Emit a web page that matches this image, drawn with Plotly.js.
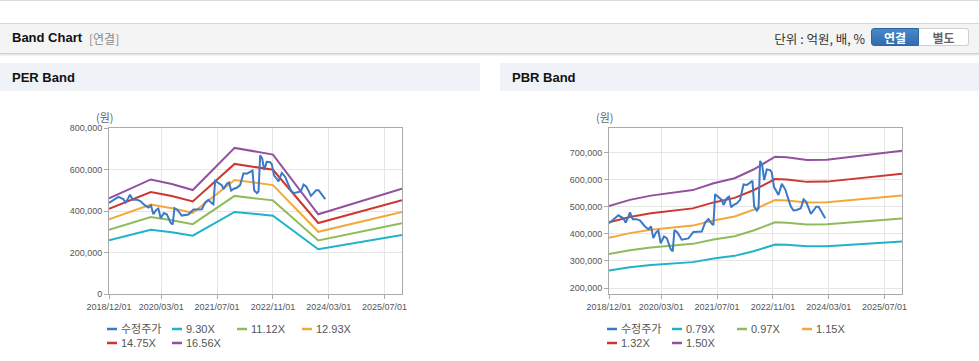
<!DOCTYPE html>
<html>
<head>
<meta charset="utf-8">
<script src="https://cdn.plot.ly/plotly-3.0.1.min.js"></script>
<style>
  html,body{margin:0;padding:0;}
  body{width:979px;height:361px;overflow:hidden;background:#fff;position:relative;
       font-family:"Liberation Sans","Noto Sans CJK KR",Arial,sans-serif;}
  .topline{position:absolute;left:0;top:0;width:979px;height:1px;background:#dcdcdc;}
  .hdr{position:absolute;left:0;top:23px;width:979px;height:29px;background:#f4f4f4;
       border-top:1px solid #d8d8d8;border-bottom:1px solid #cfcfcf;box-shadow:0 1px 2px rgba(0,0,0,0.15);}
  .hdr .title{position:absolute;left:12px;top:6px;font-size:13px;font-weight:bold;color:#111;}
  .hdr .sub{position:absolute;left:89px;top:7px;font-size:12px;color:#8a8a8a;font-family:"Noto Sans CJK KR","Liberation Sans",sans-serif;line-height:16px;}
  .hdr .unit{position:absolute;right:114px;top:6px;font-size:12.5px;color:#333;font-family:"Noto Sans CJK KR","Liberation Sans",sans-serif;line-height:17px;}
  .btn{position:absolute;top:4px;height:18px;width:48px;font-size:12px;font-weight:bold;text-align:center;line-height:18px;
       font-family:"Noto Sans CJK KR",sans-serif;box-sizing:border-box;}
  .btn.on{left:871px;background:linear-gradient(#4a88c8,#2f6cb0);color:#fff;border:1px solid #2c65a5;border-radius:3px 0 0 3px;}
  .btn.off{left:919px;width:50px;background:#fff;color:#666;border:1px solid #cfcfcf;border-left:none;border-radius:0 3px 3px 0;}
  .sec{position:absolute;top:63px;height:28px;background:#eff2f7;}
  .sec span{position:absolute;left:12px;top:7px;font-size:13px;font-weight:bold;color:#111;}
  .chart{position:absolute;top:91px;height:270px;}
</style>
</head>
<body>
<div class="topline"></div>
<div class="hdr">
  <div class="title">Band Chart</div>
  <div class="sub">[연결]</div>
  <div class="unit">단위 : 억원, 배, %</div>
  <div class="btn on">연결</div>
  <div class="btn off">별도</div>
</div>
<div class="sec" style="left:0;width:480px;"><span>PER Band</span></div>
<div class="sec" style="left:500px;width:479px;"><span>PBR Band</span></div>
<div id="per" class="chart" style="left:0;width:480px;"></div>
<div id="pbr" class="chart" style="left:500px;width:479px;"></div>

<script>
// ---------------- data ----------------
const tickDates  = ['2018-12-01','2020-03-01','2021-07-01','2022-11-01','2024-03-01','2025-07-01'];
const tickLabels = ['2018/12/01','2020/03/01','2021/07/01','2022/11/01','2024/03/01','2025/07/01'];

const priceName = '수정주가';
const priceDates = ['2018-12-01','2019-01-22','2019-02-21','2019-04-05','2019-04-26','2019-05-19','2019-06-02','2019-06-26',
  '2019-07-31','2019-08-29','2019-10-11','2019-11-10','2019-12-03','2019-12-23','2020-01-16','2020-02-05','2020-02-25',
  '2020-03-25','2020-04-18','2020-05-23','2020-06-09','2020-06-24','2020-07-20','2020-08-27','2020-10-24','2020-12-07',
  '2021-02-18','2021-03-19','2021-04-17','2021-05-16','2021-05-30','2021-06-14','2021-07-13','2021-08-11','2021-08-26',
  '2021-09-24','2021-10-14','2021-11-01','2021-11-21','2021-12-20','2022-01-18','2022-02-17','2022-03-18','2022-04-16',
  '2022-05-06','2022-05-21','2022-06-13','2022-06-28','2022-07-12','2022-07-30','2022-08-16','2022-09-08','2022-10-08',
  '2022-10-22','2022-11-11','2022-11-29','2022-12-19','2023-01-17','2023-02-16','2023-03-08','2023-04-06','2023-04-29',
  '2023-05-28','2023-07-02','2023-07-26','2023-08-18','2023-09-07','2023-09-28','2023-10-21','2023-11-13','2023-12-04',
  '2024-01-02','2024-01-31'];
const priceValues = [439000,457000,468000,457000,441000,463000,479000,454000,
  454000,449000,427000,417000,427000,384000,405000,412000,365000,
  390000,384000,343000,335000,414000,405000,378000,383000,407000,
  408000,441000,454000,437000,432000,546000,537000,525000,506000,
  531000,537000,498000,506000,512000,525000,582000,580000,588000,
  595000,500000,486000,494000,669000,653000,598000,637000,635000,
  625000,571000,559000,543000,584000,564000,537000,500000,486000,
  488000,494000,527000,518000,498000,473000,486000,500000,500000,
  476000,457000];

// PER bands
const perDates = ['2018-12-01','2019-12-01','2020-06-01','2020-12-01','2021-12-01','2022-11-01','2023-12-01','2025-12-01'];
const perNames = ['9.30X','11.12X','12.93X','14.75X','16.56X'];
const per930  = [258900,310000,297600,281300,395300,377400,215700,284700];
const per1112 = [309600,370600,355800,336400,472700,451200,257900,340500];
const per1293 = [360000,430900,413800,391100,549700,524700,299800,395900];
const per1475 = [410600,491600,472000,446200,627000,598600,342100,451600];
const per1656 = [461000,552000,530000,501000,704000,672000,384000,507000];

// PBR bands
const pbrDates = ['2018-12-01','2019-06-01','2019-12-01','2020-12-01','2021-06-01','2021-12-01','2022-05-15','2022-11-20',
  '2023-03-01','2023-08-24','2024-02-15','2025-12-01'];
const pbrNames = ['0.79X','0.97X','1.15X','1.32X','1.50X'];
const pbr079 = [264700,276500,284800,295500,308700,318600,335500,360200,359200,353900,354500,371900];
const pbr097 = [325000,339500,349700,362800,379000,391200,412000,442300,441100,434600,435200,456600];
const pbr115 = [385400,402500,414600,430100,449300,463800,488400,524400,522900,515200,516000,541300];
const pbr132 = [442300,462000,475900,493700,515700,532400,560600,601900,600200,591400,592300,621300];
const pbr150 = [502700,525000,540700,561000,586000,605000,637000,684000,682000,672000,673000,706000];

const perYTicks = [0,200000,400000,600000,800000];
const pbrYTicks = [200000,300000,400000,500000,600000,700000];

// ---------------- style ----------------
const priceColor = '#3a78c8';
const bandColors = ['#1fb3c9','#8ebc5a','#f2a93b','#cf3630','#9350a0'];
const FONT = '"Liberation Sans","Noto Sans CJK KR",Arial,sans-serif';
const M = {l:109, r:0, t:37, b:67};

function build(div, width, bandDates, bandSeries, bandNames, yRange, yTicks){
  M.r = width - 109 - 293;
  const pw = width - M.l - M.r, ph = 270 - M.t - M.b;
  const px = x => (x - M.l) / pw;
  const py = y => 1 - (y - M.t) / ph;

  const traces = [];
  bandSeries.forEach((vals, i) => {
    traces.push({x: bandDates, y: vals, type:'scatter', mode:'lines', name: bandNames[i],
      line:{color: bandColors[i], width:2}, showlegend:false, hoverinfo:'skip'});
  });
  traces.push({x: priceDates, y: priceValues, type:'scatter', mode:'lines', name: priceName,
    line:{color: priceColor, width:2}, showlegend:false, hoverinfo:'skip'});

  // custom legend
  const names = [priceName].concat(bandNames);
  const colors = [priceColor].concat(bandColors);
  const slotX = [107,172,237,302];
  const rowY = [238,252];
  const shapes = [], annotations = [];
  names.forEach((n, i) => {
    const sx = slotX[i % 4], sy = rowY[Math.floor(i / 4)];
    shapes.push({type:'line', xref:'paper', yref:'paper', x0:px(sx), x1:px(sx+10), y0:py(sy), y1:py(sy),
      line:{color: colors[i], width:2.5}});
    annotations.push({xref:'paper', yref:'paper', x:px(sx+12), y:py(sy), xanchor:'left', yanchor:'middle',
      text:n, showarrow:false, font:{family:FONT, size:11, color:'#555'}});
  });
  annotations.push({xref:'paper', yref:'paper', x:px(105), y:py(26), xanchor:'center', yanchor:'middle',
    text:'(원)', showarrow:false, font:{family:'"Noto Sans CJK KR",sans-serif', size:11, color:'#666'}});

  const layout = {
    width: width, height: 270, margin: {l:M.l, r:M.r, t:M.t, b:M.b, pad:0},
    paper_bgcolor:'rgba(0,0,0,0)', plot_bgcolor:'#fff',
    font:{family:FONT, size:9, color:'#555'},
    xaxis:{type:'date', range:['2018-12-01','2025-12-01'], tickmode:'array', tickvals:tickDates, ticktext:tickLabels,
      showgrid:true, gridcolor:'#e6e6e6', gridwidth:1, showline:true, linecolor:'#aaaaaa', linewidth:1, mirror:true,
      ticks:'outside', ticklen:4, tickcolor:'#aaaaaa', tickfont:{family:FONT, size:9, color:'#555'}, zeroline:false, fixedrange:true},
    yaxis:{range:yRange, tickmode:'array', tickvals:yTicks, tickformat:',d',
      showgrid:true, gridcolor:'#e6e6e6', gridwidth:1, showline:true, linecolor:'#aaaaaa', linewidth:1, mirror:true,
      ticks:'outside', ticklen:4, tickcolor:'#aaaaaa', tickfont:{family:FONT, size:9, color:'#555'}, zeroline:false, fixedrange:true},
    shapes: shapes, annotations: annotations, showlegend:false
  };
  Plotly.newPlot(div, traces, layout, {staticPlot:true, displayModeBar:false});
}

build('per', 480, perDates, [per930, per1112, per1293, per1475, per1656], perNames, [0, 800000], perYTicks);
build('pbr', 479, pbrDates, [pbr079, pbr097, pbr115, pbr132, pbr150], pbrNames, [178000, 790000], pbrYTicks);
</script>
</body>
</html>
